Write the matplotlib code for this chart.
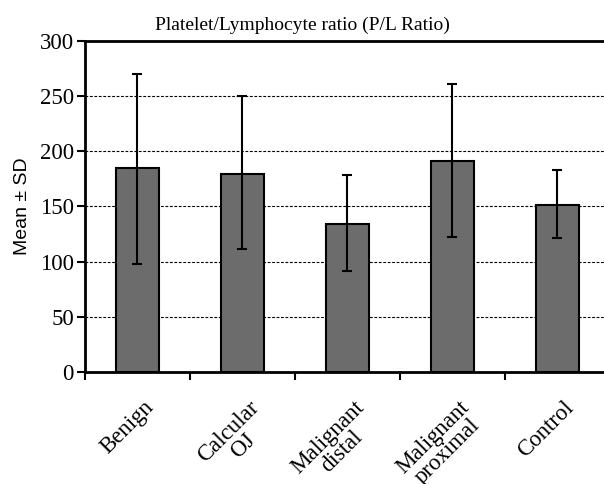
import numpy as np
import matplotlib
matplotlib.use("Agg")
import matplotlib.pyplot as plt
import matplotlib.transforms as mtransforms

categories = ["Benign", "Calcular\nOJ", "Malignant\ndistal", "Malignant\nproximal", "Control"]
means = [184.7, 179.0, 133.8, 190.8, 151.3]
err_low = [86.4, 67.8, 42.5, 68.1, 29.9]
err_high = [85.3, 70.8, 44.3, 70.2, 31.6]

x = np.arange(len(categories)) + 0.5

fig = plt.figure(figsize=(6.04, 4.84), dpi=100)
ax = fig.add_axes([0.1407, 0.2314, 0.869, 0.684])

ax.bar(x, means, 0.41, color="#6c6c6c", edgecolor="black", linewidth=1.5, zorder=3)
ax.errorbar(x, means, yerr=[err_low, err_high], fmt="none", ecolor="black",
            elinewidth=1.5, capsize=3.6, capthick=1.5, zorder=4)

ax.set_xlim(0, len(categories))
ax.set_ylim(0, 300)
ax.set_yticks(np.arange(0, 301, 50))
ax.set_yticklabels([str(v) for v in range(0, 301, 50)], family="Liberation Serif", fontsize=16.5)
for v in range(50, 300, 50):
    ax.axhline(v, color="black", linestyle=(0, (2.5, 1.5)), linewidth=0.8, zorder=1)

ax.set_xticks(np.arange(0, len(categories) + 1))
ax.set_xticklabels([])
ax.set_xticks(x, minor=True)
ax.set_xticklabels(categories, minor=True, rotation=45, ha="right", va="top",
                   rotation_mode="anchor", multialignment="center",
                   family="Liberation Serif", fontsize=16.5, linespacing=0.95)
ax.tick_params(axis="x", which="minor", length=0, pad=18)
ax.tick_params(axis="both", which="major", length=6, width=1.5, direction="out")
ax.tick_params(axis="y", which="major", pad=2)

shift = mtransforms.ScaledTranslation(6 / 100, 0, fig.dpi_scale_trans)
for lab in ax.get_xticklabels(minor=True):
    lab.set_transform(lab.get_transform() + shift)

for s in ["left", "bottom", "top"]:
    ax.spines[s].set_linewidth(2)
ax.spines["right"].set_visible(False)

ax.set_ylabel("Mean ± SD", family="Liberation Sans", fontsize=14, labelpad=6)
fig.text(0.5, 0.948, "Platelet/Lymphocyte ratio (P/L Ratio)", family="Liberation Serif",
         fontsize=14, ha="center", va="center")

plt.savefig("out.png", dpi=100)
